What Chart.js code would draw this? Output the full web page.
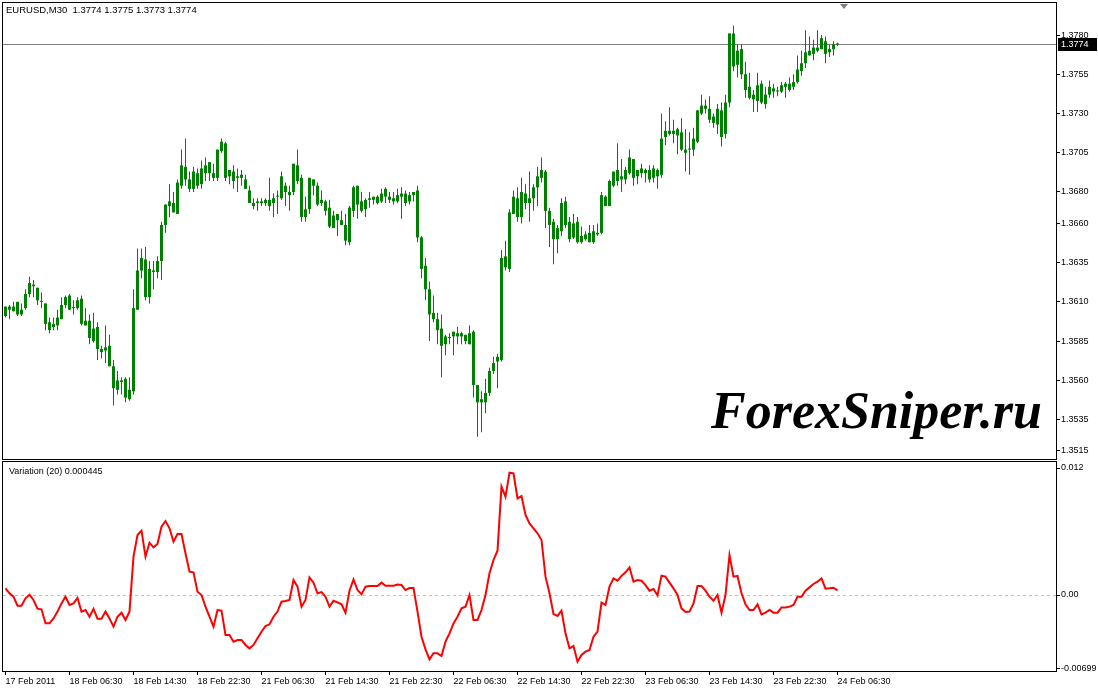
<!DOCTYPE html>
<html>
<head>
<meta charset="utf-8">
<script src="https://cdn.jsdelivr.net/npm/chart.js@4.4.1/dist/chart.umd.min.js"></script>
<style>
html, body { margin: 0; padding: 0; background: #fff; }
#wrap { position: relative; width: 1098px; height: 691px; overflow: hidden; background: #fff; }
canvas { position: absolute; left: 0; }
#priceChart { top: 0; }
#indChart { top: 461px; }
</style>
</head>
<body>
<div id="wrap">
  <canvas id="priceChart" width="1098" height="461"></canvas>
  <canvas id="indChart" width="1098" height="230"></canvas>
</div>
<script>
// EURUSD M30, 17 Feb 2011 22:30 .. 24 Feb 06:30
const symbolTitle = 'EURUSD,M30  1.3774 1.3775 1.3773 1.3774';
const indicatorTitle = 'Variation (20) 0.000445';
const watermark = 'ForexSniper.ru';

const xTickLabels = ['17 Feb 2011', '18 Feb 06:30', '18 Feb 14:30', '18 Feb 22:30', '21 Feb 06:30',
  '21 Feb 14:30', '21 Feb 22:30', '22 Feb 06:30', '22 Feb 14:30', '22 Feb 22:30',
  '23 Feb 06:30', '23 Feb 14:30', '23 Feb 22:30', '24 Feb 06:30'];
const barsPerTick = 16;

const priceTicks = [1.3515, 1.3535, 1.3560, 1.3585, 1.3610, 1.3635, 1.3660, 1.3680, 1.3705, 1.3730, 1.3755, 1.3780];
const indTicks = [0.012, 0, -0.00699];
const indTickLabels = ['0.012', '0.00', '-0.00699'];

const open = [
  1.3601,1.3607,1.3604,1.3610,1.3602,1.3606,1.3615,1.3621,1.3619,1.3610,
  1.3609,1.3597,1.3594,1.3595,1.3599,1.3608,1.3614,1.3606,1.3606,1.3612,
  1.3595,1.3598,1.3585,1.3594,1.3580,1.3579,1.3582,1.3569,1.3554,1.3560,
  1.3561,1.3548,1.3553,1.3605,1.3630,1.3637,1.3613,1.3630,1.3629,1.3636,
  1.3659,1.3671,1.3673,1.3666,1.3684,1.3696,1.3688,1.3682,1.3692,1.3685,
  1.3692,1.3699,1.3692,1.3689,1.3706,1.3711,1.3690,1.3693,1.3689,1.3689,
  1.3688,1.3681,1.3673,1.3673,1.3674,1.3673,1.3675,1.3673,1.3677,1.3676,
  1.3684,1.3680,1.3680,1.3697,1.3689,1.3664,1.3669,1.3688,1.3684,1.3673,
  1.3674,1.3670,1.3657,1.3666,1.3662,1.3659,1.3648,1.3668,1.3684,1.3674,
  1.3669,1.3675,1.3677,1.3673,1.3674,1.3677,1.3677,1.3676,1.3674,1.3677,
  1.3679,1.3674,1.3678,1.3681,1.3651,1.3633,1.3618,1.3603,1.3599,1.3593,
  1.3583,1.3587,1.3588,1.3590,1.3588,1.3589,1.3583,1.3591,1.3557,1.3546,
  1.3546,1.3552,1.3566,1.3572,1.3573,1.3639,1.3631,1.3666,1.3676,1.3664,
  1.3679,1.3673,1.3676,1.3683,1.3689,1.3693,1.3668,1.3661,1.3650,1.3655,
  1.3674,1.3661,1.3651,1.3661,1.3648,1.3653,1.3648,1.3655,1.3653,1.3654,
  1.3677,1.3671,1.3684,1.3694,1.3688,1.3688,1.3692,1.3701,1.3690,1.3695,
  1.3692,1.3694,1.3689,1.3694,1.3691,1.3715,1.3719,1.3717,1.3720,1.3718,
  1.3707,1.3707,1.3707,1.3712,1.3730,1.3735,1.3733,1.3728,1.3723,1.3732,
  1.3717,1.3737,1.3781,1.3761,1.3771,1.3755,1.3747,1.3742,1.3738,1.3749,
  1.3736,1.3742,1.3746,1.3744,1.3744,1.3747,1.3749,1.3747,1.3750,1.3757,
  1.3762,1.3770,1.3768,1.3772,1.3771,1.3776,1.3769,1.3771,1.3774
];
const high = [
  1.3607,1.3608,1.3610,1.3610,1.3609,1.3618,1.3626,1.3624,1.3619,1.3616,
  1.3609,1.3600,1.3600,1.3605,1.3613,1.3614,1.3615,1.3611,1.3613,1.3614,
  1.3606,1.3602,1.3603,1.3597,1.3582,1.3595,1.3589,1.3573,1.3566,1.3562,
  1.3562,1.3562,1.3618,1.3644,1.3644,1.3645,1.3636,1.3636,1.3639,1.3661,
  1.3672,1.3685,1.3680,1.3688,1.3707,1.3714,1.3693,1.3696,1.3695,1.3700,
  1.3702,1.3699,1.3698,1.3707,1.3714,1.3712,1.3694,1.3697,1.3695,1.3694,
  1.3691,1.3684,1.3676,1.3676,1.3676,1.3676,1.3689,1.3679,1.3681,1.3693,
  1.3686,1.3684,1.3698,1.3707,1.3691,1.3677,1.3689,1.3688,1.3686,1.3681,
  1.3675,1.3675,1.3668,1.3666,1.3668,1.3666,1.3671,1.3684,1.3684,1.3680,
  1.3676,1.3680,1.3677,1.3678,1.3682,1.3683,1.3680,1.3680,1.3682,1.3683,
  1.3681,1.3680,1.3680,1.3684,1.3652,1.3638,1.3623,1.3614,1.3603,1.3602,
  1.3589,1.3590,1.3591,1.3594,1.3591,1.3589,1.3595,1.3592,1.3557,1.3553,
  1.3561,1.3568,1.3575,1.3577,1.3643,1.3649,1.3669,1.3681,1.3683,1.3689,
  1.3685,1.3693,1.3685,1.3696,1.3702,1.3694,1.3670,1.3663,1.3659,1.3676,
  1.3677,1.3664,1.3666,1.3664,1.3658,1.3655,1.3659,1.3659,1.3660,1.3680,
  1.3678,1.3688,1.3693,1.3711,1.3701,1.3696,1.3707,1.3701,1.3694,1.3698,
  1.3695,1.3697,1.3697,1.3695,1.3730,1.3725,1.3734,1.3726,1.3721,1.3727,
  1.3720,1.3718,1.3721,1.3732,1.3742,1.3739,1.3741,1.3730,1.3736,1.3737,
  1.3742,1.3781,1.3786,1.3774,1.3774,1.3763,1.3756,1.3745,1.3756,1.3751,
  1.3747,1.3751,1.3749,1.3747,1.3750,1.3750,1.3753,1.3755,1.3767,1.3770,
  1.3783,1.3779,1.3777,1.3783,1.3780,1.3779,1.3774,1.3776,1.3775
];
const low = [
  1.3600,1.3599,1.3604,1.3601,1.3601,1.3605,1.3613,1.3613,1.3608,1.3606,
  1.3592,1.3590,1.3592,1.3592,1.3599,1.3606,1.3605,1.3602,1.3605,1.3595,
  1.3595,1.3583,1.3584,1.3573,1.3574,1.3571,1.3569,1.3544,1.3551,1.3551,
  1.3546,1.3547,1.3551,1.3605,1.3625,1.3611,1.3609,1.3618,1.3625,1.3624,
  1.3654,1.3664,1.3667,1.3666,1.3682,1.3684,1.3680,1.3680,1.3682,1.3682,
  1.3687,1.3687,1.3687,1.3687,1.3705,1.3687,1.3685,1.3682,1.3680,1.3684,
  1.3682,1.3673,1.3669,1.3668,1.3671,1.3671,1.3668,1.3664,1.3666,1.3675,
  1.3671,1.3668,1.3678,1.3685,1.3661,1.3661,1.3666,1.3678,1.3671,1.3671,
  1.3665,1.3657,1.3657,1.3652,1.3659,1.3646,1.3646,1.3664,1.3663,1.3667,
  1.3664,1.3670,1.3672,1.3672,1.3673,1.3673,1.3673,1.3672,1.3673,1.3663,
  1.3671,1.3672,1.3674,1.3648,1.3625,1.3611,1.3585,1.3597,1.3583,1.3562,
  1.3576,1.3583,1.3576,1.3583,1.3583,1.3583,1.3583,1.3549,1.3524,1.3527,
  1.3539,1.3550,1.3564,1.3555,1.3572,1.3630,1.3629,1.3666,1.3661,1.3660,
  1.3669,1.3661,1.3668,1.3671,1.3686,1.3657,1.3645,1.3634,1.3641,1.3652,
  1.3657,1.3648,1.3650,1.3647,1.3647,1.3649,1.3648,1.3647,1.3652,1.3653,
  1.3671,1.3671,1.3683,1.3684,1.3680,1.3685,1.3691,1.3684,1.3685,1.3689,
  1.3686,1.3686,1.3686,1.3682,1.3689,1.3710,1.3716,1.3711,1.3704,1.3706,
  1.3693,1.3691,1.3703,1.3711,1.3729,1.3730,1.3724,1.3721,1.3717,1.3709,
  1.3714,1.3734,1.3757,1.3753,1.3752,1.3740,1.3739,1.3731,1.3731,1.3736,
  1.3733,1.3740,1.3740,1.3741,1.3743,1.3740,1.3744,1.3745,1.3749,1.3754,
  1.3759,1.3767,1.3764,1.3769,1.3771,1.3762,1.3766,1.3767,1.3773
];
const close = [
  1.3607,1.3605,1.3607,1.3602,1.3605,1.3615,1.3622,1.3620,1.3611,1.3610,
  1.3596,1.3592,1.3596,1.3600,1.3608,1.3613,1.3605,1.3606,1.3611,1.3596,
  1.3598,1.3587,1.3593,1.3580,1.3578,1.3581,1.3569,1.3555,1.3560,1.3559,
  1.3549,1.3554,1.3606,1.3630,1.3638,1.3613,1.3631,1.3629,1.3636,1.3659,
  1.3672,1.3674,1.3667,1.3686,1.3697,1.3688,1.3682,1.3693,1.3684,1.3695,
  1.3697,1.3692,1.3689,1.3707,1.3712,1.3689,1.3694,1.3687,1.3690,1.3691,
  1.3682,1.3673,1.3671,1.3674,1.3673,1.3675,1.3671,1.3676,1.3677,1.3690,
  1.3680,1.3678,1.3698,1.3687,1.3664,1.3669,1.3689,1.3684,1.3672,1.3675,
  1.3668,1.3658,1.3665,1.3662,1.3659,1.3649,1.3670,1.3683,1.3672,1.3668,
  1.3675,1.3676,1.3675,1.3677,1.3679,1.3682,1.3675,1.3674,1.3678,1.3679,
  1.3673,1.3678,1.3680,1.3651,1.3631,1.3618,1.3602,1.3599,1.3592,1.3582,
  1.3588,1.3587,1.3591,1.3588,1.3590,1.3585,1.3590,1.3557,1.3546,1.3548,
  1.3552,1.3566,1.3571,1.3575,1.3638,1.3632,1.3667,1.3677,1.3664,1.3680,
  1.3673,1.3676,1.3683,1.3690,1.3694,1.3668,1.3659,1.3650,1.3657,1.3673,
  1.3659,1.3650,1.3660,1.3648,1.3652,1.3650,1.3654,1.3648,1.3654,1.3678,
  1.3671,1.3687,1.3693,1.3687,1.3690,1.3694,1.3702,1.3689,1.3694,1.3692,
  1.3694,1.3688,1.3695,1.3690,1.3714,1.3719,1.3717,1.3719,1.3716,1.3707,
  1.3705,1.3707,1.3714,1.3732,1.3735,1.3733,1.3726,1.3724,1.3733,1.3715,
  1.3737,1.3781,1.3760,1.3770,1.3755,1.3745,1.3740,1.3739,1.3748,1.3737,
  1.3742,1.3747,1.3744,1.3744,1.3748,1.3749,1.3745,1.3750,1.3758,1.3762,
  1.3769,1.3767,1.3772,1.3770,1.3778,1.3768,1.3771,1.3774,1.3774
];
const variation = [
  0.00063,0.00016,-0.00016,-0.00101,-0.00101,-0.00032,0.00003,-0.00047,-0.00129,-0.00135,
  -0.00268,-0.00268,-0.00221,-0.00157,-0.00079,-0.00016,-0.00094,-0.00079,-0.00028,-0.00157,
  -0.00142,-0.00205,-0.00132,-0.00224,-0.00224,-0.00157,-0.00221,-0.00299,-0.00205,-0.00167,
  -0.00236,-0.00157,0.00362,0.00567,0.00608,0.00362,0.00494,0.00450,0.00482,0.00646,
  0.00699,0.00630,0.00504,0.00576,0.00576,0.00394,0.00220,0.00214,0.00031,0.00000,
  -0.00110,-0.00205,-0.00299,-0.00142,-0.00148,-0.00378,-0.00378,-0.00441,-0.00425,-0.00425,
  -0.00472,-0.00504,-0.00472,-0.00409,-0.00347,-0.00293,-0.00277,-0.00205,-0.00157,-0.00063,
  -0.00057,-0.00047,0.00142,0.00079,-0.00110,-0.00047,0.00167,0.00117,0.00016,0.00028,
  -0.00016,-0.00110,-0.00054,-0.00069,-0.00088,-0.00167,0.00041,0.00148,0.00047,0.00006,
  0.00079,0.00085,0.00085,0.00085,0.00117,0.00088,0.00088,0.00088,0.00098,0.00094,
  0.00047,0.00066,0.00066,-0.00157,-0.00394,-0.00513,-0.00608,-0.00551,-0.00551,-0.00576,
  -0.00441,-0.00362,-0.00268,-0.00205,-0.00126,-0.00110,0.00000,-0.00236,-0.00236,-0.00142,
  0.00000,0.00205,0.00331,0.00419,0.01024,0.00929,0.01156,0.01150,0.00913,0.00935,
  0.00756,0.00677,0.00630,0.00583,0.00520,0.00173,0.00016,-0.00180,-0.00198,-0.00148,
  -0.00362,-0.00504,-0.00482,-0.00630,-0.00567,-0.00535,-0.00520,-0.00394,-0.00346,-0.00072,
  -0.00094,0.00079,0.00157,0.00135,0.00180,0.00214,0.00261,0.00126,0.00142,0.00135,
  0.00094,0.00041,0.00057,-0.00003,0.00183,0.00173,0.00117,0.00063,0.00000,-0.00126,
  -0.00161,-0.00157,-0.00079,0.00085,0.00085,0.00041,-0.00016,-0.00054,0.00000,-0.00167,
  0.00000,0.00378,0.00173,0.00180,0.00016,-0.00088,-0.00142,-0.00142,-0.00088,-0.00183,
  -0.00167,-0.00142,-0.00167,-0.00167,-0.00117,-0.00117,-0.00110,-0.00094,-0.00016,-0.00016,
  0.00041,0.00072,0.00104,0.00126,0.00157,0.00060,0.00063,0.00069,0.000445
];

// x range leaves empty space on the right (chart shift), 4px per bar
const X_MIN = -0.625, X_MAX = 262.625;
const candleGreen = '#008000';
const uiFont = 'Liberation Sans';

Chart.defaults.font.family = uiFont;
Chart.defaults.font.size = 9;
Chart.defaults.color = '#000';

function frame(ctx, a) {
  ctx.strokeStyle = '#000';
  ctx.lineWidth = 1;
  ctx.strokeRect(a.left - 0.5, a.top - 0.5, a.right - a.left + 1, a.bottom - a.top + 1);
}

// keep the plot area where the layout padding puts it
function noScalePadding(s) {
  s.paddingTop = 0;
  s.paddingBottom = 0;
  s.paddingLeft = 0;
  s.paddingRight = 0;
}

const pricePane = {
  id: 'pricePane',
  beforeDatasetsDraw(chart) {
    const { ctx, chartArea: a, scales: { y } } = chart;
    const py = Math.round(y.getPixelForValue(close[close.length - 1])) + 0.5;
    ctx.save();
    ctx.strokeStyle = '#808080';
    ctx.lineWidth = 1;
    ctx.beginPath();
    ctx.moveTo(a.left, py);
    ctx.lineTo(a.right, py);
    ctx.stroke();
    ctx.restore();
  },
  afterDraw(chart) {
    const { ctx, chartArea: a, scales: { x, y } } = chart;
    ctx.save();
    frame(ctx, a);

    ctx.fillStyle = '#000';
    ctx.font = '9.5px "' + uiFont + '"';
    ctx.textBaseline = 'middle';
    ctx.fillText(symbolTitle, 6, 10);

    ctx.font = 'italic bold 52px "Liberation Serif"';
    ctx.textBaseline = 'alphabetic';
    ctx.fillText(watermark, 711, 428);

    // bid label on the price axis
    const last = close[close.length - 1];
    const py = Math.round(y.getPixelForValue(last));
    ctx.fillStyle = '#000';
    ctx.fillRect(a.right + 2, py - 6, 39, 13);
    ctx.fillStyle = '#fff';
    ctx.font = '9px "' + uiFont + '"';
    ctx.textBaseline = 'middle';
    ctx.fillText(last.toFixed(4), a.right + 5, py + 1);

    // chart shift marker
    const sx = Math.round(x.getPixelForValue(open.length + 0.5));
    ctx.fillStyle = '#808080';
    ctx.beginPath();
    ctx.moveTo(sx - 4, a.top + 1);
    ctx.lineTo(sx + 4, a.top + 1);
    ctx.lineTo(sx, a.top + 6);
    ctx.closePath();
    ctx.fill();
    ctx.restore();
  }
};

const indPane = {
  id: 'indPane',
  beforeDatasetsDraw(chart) {
    const { ctx, chartArea: a, scales: { y } } = chart;
    const zy = Math.round(y.getPixelForValue(0)) + 0.5;
    ctx.save();
    ctx.strokeStyle = '#c0c0c0';
    ctx.lineWidth = 1;
    ctx.setLineDash([3, 3]);
    ctx.beginPath();
    ctx.moveTo(a.left, zy);
    ctx.lineTo(a.right, zy);
    ctx.stroke();
    ctx.restore();
  },
  afterDraw(chart) {
    const { ctx, chartArea: a } = chart;
    ctx.save();
    frame(ctx, a);
    ctx.fillStyle = '#000';
    ctx.font = '9px "' + uiFont + '"';
    ctx.textBaseline = 'middle';
    ctx.fillText(indicatorTitle, 9, 11);
    ctx.restore();
  }
};

const idx = open.map((_, i) => i);

new Chart(document.getElementById('priceChart'), {
  type: 'bar',
  data: {
    datasets: [{
      label: 'High-Low',
      data: idx.map(i => ({ x: i, y: [low[i], high[i]] })),
      backgroundColor: candleGreen,
      maxBarThickness: 1,
      barPercentage: 1,
      categoryPercentage: 1,
      inflateAmount: 0,
      grouped: false
    }, {
      label: 'Open-Close',
      data: idx.map(i => ({ x: i, y: [open[i], close[i]] })),
      backgroundColor: candleGreen,
      maxBarThickness: 3,
      barPercentage: 1,
      categoryPercentage: 1,
      minBarLength: 1,
      inflateAmount: 0,
      grouped: false
    }]
  },
  options: {
    responsive: false,
    animation: false,
    layout: { padding: { left: 3, top: 3, right: 0, bottom: 2 } },
    plugins: { legend: { display: false }, tooltip: { enabled: false } },
    scales: {
      x: { type: 'linear', display: false, offset: false, min: X_MIN, max: X_MAX },
      y: {
        position: 'right',
        min: 1.35099,
        max: 1.38004,
        afterBuildTicks: s => { s.ticks = priceTicks.map(v => ({ value: v })); },
        afterFit: s => { s.width = 42; noScalePadding(s); },
        grid: { drawOnChartArea: false, drawTicks: true, tickLength: 4, color: '#000' },
        border: { display: false },
        ticks: { padding: 1, autoSkip: false, callback: v => v.toFixed(4) }
      }
    }
  },
  plugins: [pricePane]
});

new Chart(document.getElementById('indChart'), {
  type: 'line',
  data: {
    datasets: [{
      label: 'Variation (20)',
      data: idx.map(i => ({ x: i, y: variation[i] })),
      borderColor: '#ff0000',
      borderWidth: 2,
      pointRadius: 0,
      tension: 0,
      fill: false
    }]
  },
  options: {
    responsive: false,
    animation: false,
    layout: { padding: { left: 3, top: 1, right: 0, bottom: 1 } },
    plugins: { legend: { display: false }, tooltip: { enabled: false } },
    scales: {
      x: {
        type: 'linear',
        offset: false,
        min: X_MIN,
        max: X_MAX,
        afterBuildTicks: s => { s.ticks = xTickLabels.map((_, k) => ({ value: k * barsPerTick })); },
        afterFit: s => { s.height = 19; noScalePadding(s); },
        grid: { drawOnChartArea: false, drawTicks: true, tickLength: 4, color: '#000' },
        border: { display: false },
        ticks: { align: 'start', maxRotation: 0, autoSkip: false, padding: 1, callback: (v, i) => xTickLabels[i] }
      },
      y: {
        position: 'right',
        min: -0.007181,
        max: 0.012567,
        afterBuildTicks: s => { s.ticks = indTicks.map(v => ({ value: v })); },
        afterFit: s => { s.width = 42; noScalePadding(s); },
        grid: { drawOnChartArea: false, drawTicks: true, tickLength: 4, color: '#000' },
        border: { display: false },
        ticks: { padding: 1, autoSkip: false, callback: (v, i) => indTickLabels[i] }
      }
    }
  },
  plugins: [indPane]
});
</script>
</body>
</html>
